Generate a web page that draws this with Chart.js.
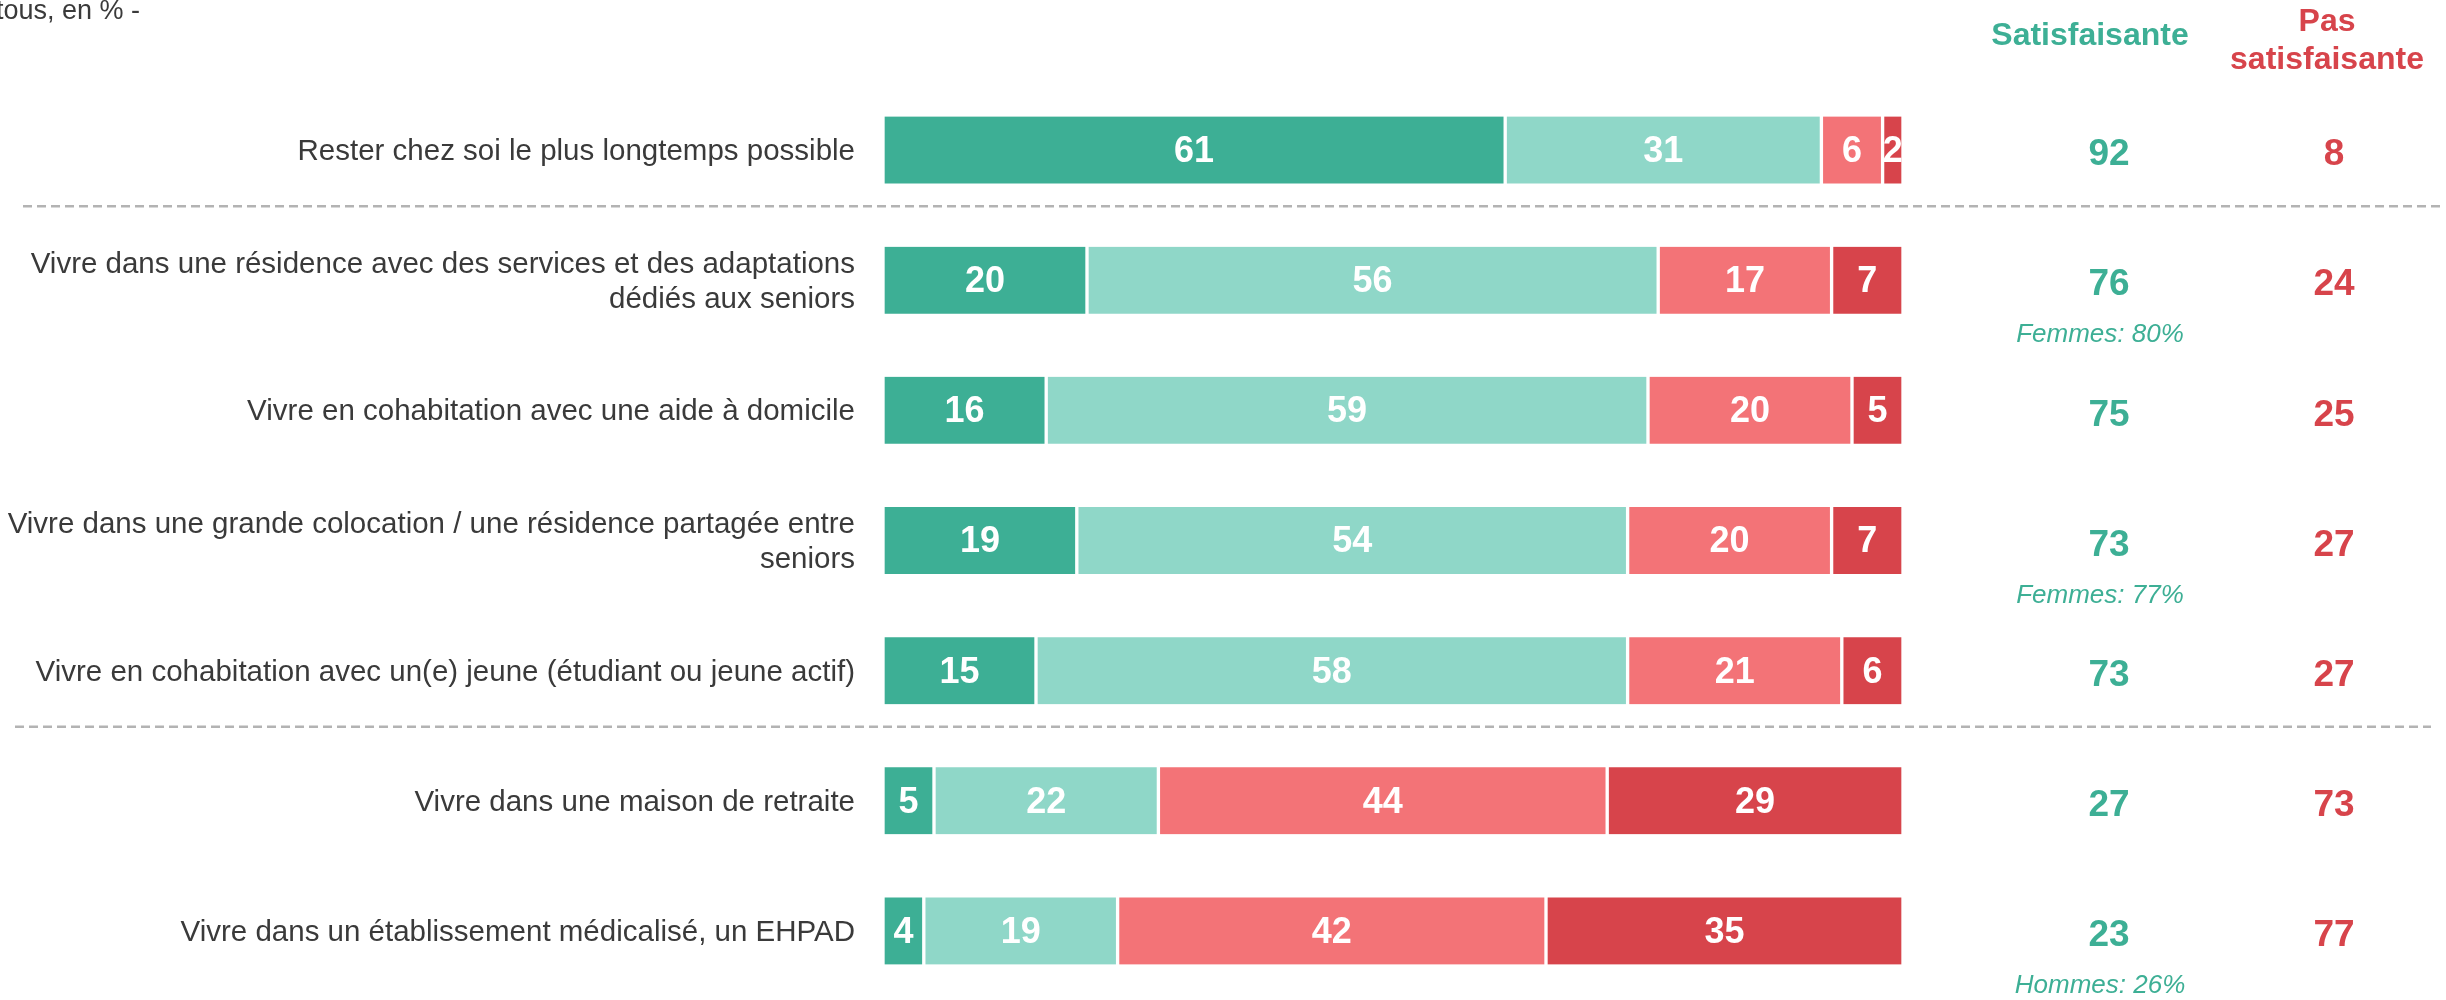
<!DOCTYPE html>
<html>
<head>
<meta charset="utf-8">
<script src="https://cdn.jsdelivr.net/npm/chart.js@4"></script>
<style>
html,body{margin:0;padding:0;background:#fff;}
#wrap{width:2446px;height:1000px;position:relative;}
</style>
</head>
<body>
<div id="wrap"><canvas id="c" width="2446" height="1000"></canvas></div>
<script>
const categories = [
  ["Rester chez soi le plus longtemps possible"],
  ["Vivre dans une résidence avec des services et des adaptations", "dédiés aux seniors"],
  ["Vivre en cohabitation avec une aide à domicile"],
  ["Vivre dans une grande colocation / une résidence partagée entre", "seniors"],
  ["Vivre en cohabitation avec un(e) jeune (étudiant ou jeune actif)"],
  ["Vivre dans une maison de retraite"],
  ["Vivre dans un établissement médicalisé, un EHPAD"]
];
const tresSatisfaisante = [61, 20, 16, 19, 15, 5, 4];
const plutotSatisfaisante = [31, 56, 59, 54, 58, 22, 19];
const plutotPasSatisfaisante = [6, 17, 20, 20, 21, 44, 42];
const pasDuToutSatisfaisante = [2, 7, 5, 7, 6, 29, 35];
const totalSatisfaisante = [92, 76, 75, 73, 73, 27, 23];
const totalPasSatisfaisante = [8, 24, 25, 27, 27, 73, 77];
const notes = ["", "Femmes: 80%", "", "Femmes: 77%", "", "", "Hommes: 26%"];
const separatorsAfter = [0, 4];
const headerSat = "Satisfaisante";
const headerPas = ["Pas", "satisfaisante"];
const topText = "tous, en % -";

const GREEN = '#3daf95', LIGHT = '#8fd7c8', CORAL = '#f37377', RED = '#d7444b';
const FONT = '"Liberation Sans", Arial, sans-serif';

const overlay = {
  id: 'overlay',
  afterDatasetsDraw(chart) {
    const ctx = chart.ctx;
    const y = chart.scales.y;
    ctx.save();
    // values inside bars
    ctx.fillStyle = '#fff';
    ctx.font = 'bold 36px ' + FONT;
    ctx.textAlign = 'center';
    ctx.textBaseline = 'middle';
    chart.data.datasets.forEach((ds, di) => {
      const meta = chart.getDatasetMeta(di);
      meta.data.forEach((el, i) => {
        const v = ds.data[i];
        ctx.fillText(String(v), (el.x + el.base) / 2, el.y + 2);
      });
    });
    // category labels
    ctx.fillStyle = '#3a3a3a';
    ctx.font = '29.5px ' + FONT;
    ctx.textAlign = 'right';
    categories.forEach((lines, i) => {
      const cy = y.getPixelForValue(i);
      const lh = 35;
      const start = cy - (lines.length - 1) * lh / 2;
      lines.forEach((t, k) => ctx.fillText(t, chart.chartArea.left - 28, start + k * lh + 2));
    });
    // right columns
    const xSat = 2109, xPas = 2334, xNote = 2100, xHSat = 2090, xHPas = 2327;
    ctx.textAlign = 'center';
    ctx.font = 'bold 37px ' + FONT;
    totalSatisfaisante.forEach((v, i) => {
      const cy = y.getPixelForValue(i);
      ctx.fillStyle = GREEN;
      ctx.fillText(String(v), xSat, cy + 5);
      ctx.fillStyle = RED;
      ctx.fillText(String(totalPasSatisfaisante[i]), xPas, cy + 5);
    });
    ctx.font = 'italic 26px ' + FONT;
    ctx.fillStyle = GREEN;
    notes.forEach((n, i) => {
      if (!n) return;
      const cy = y.getPixelForValue(i);
      ctx.fillText(n, xNote, cy + 55);
    });
    // headers
    ctx.font = 'bold 32px ' + FONT;
    ctx.fillStyle = GREEN;
    ctx.fillText(headerSat, xHSat, 36);
    ctx.fillStyle = RED;
    ctx.fillText(headerPas[0], xHPas, 22);
    ctx.fillText(headerPas[1], xHPas, 60);
    // top text
    ctx.font = '27px ' + FONT;
    ctx.fillStyle = '#3a3a3a';
    ctx.textAlign = 'left';
    ctx.fillText(topText, -4, 12);
    // separators
    ctx.strokeStyle = '#b3b3b3';
    ctx.lineWidth = 2.5;
    ctx.setLineDash([9, 5]);
    separatorsAfter.forEach((i, k) => {
      const py = (y.getPixelForValue(i) + y.getPixelForValue(i + 1)) / 2 - 9;
      ctx.beginPath();
      ctx.moveTo(k === 0 ? 23 : 15, py);
      ctx.lineTo(k === 0 ? 2441 : 2431, py);
      ctx.stroke();
    });
    ctx.restore();
  }
};

const mk = (label, data, color) => ({
  label, data, backgroundColor: color,
  borderColor: '#ffffff',
  borderWidth: {left: 2, right: 2, top: 0, bottom: 0},
  borderSkipped: false,
  barThickness: 67
});

new Chart(document.getElementById('c'), {
  type: 'bar',
  data: {
    labels: categories,
    datasets: [
      mk('Très satisfaisante', tresSatisfaisante, GREEN),
      mk('Plutôt satisfaisante', plutotSatisfaisante, LIGHT),
      mk('Plutôt pas satisfaisante', plutotPasSatisfaisante, CORAL),
      mk('Pas du tout satisfaisante', pasDuToutSatisfaisante, RED)
    ]
  },
  options: {
    indexAxis: 'y',
    responsive: false,
    animation: false,
    devicePixelRatio: 1,
    layout: {padding: {left: 883, right: 543, top: 85, bottom: 4}},
    plugins: {legend: {display: false}, tooltip: {enabled: false}},
    scales: {
      x: {stacked: true, min: 0, max: 100, display: false},
      y: {stacked: true, display: false}
    }
  },
  plugins: [overlay]
});
</script>
</body>
</html>
